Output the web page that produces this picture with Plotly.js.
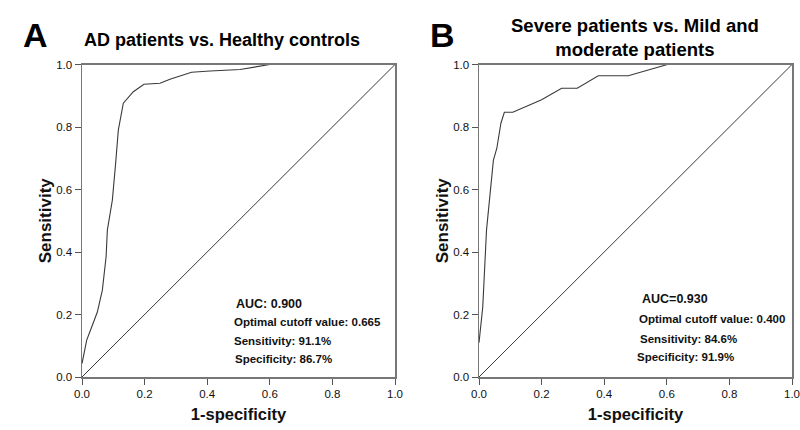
<!DOCTYPE html>
<html>
<head>
<meta charset="utf-8">
<script src="https://cdn.plot.ly/plotly-3.0.1.min.js"></script>
<style>html,body{margin:0;padding:0;background:#fff;}#chart{width:800px;height:430px;}</style>
</head>
<body>
<div id="chart"></div>
<script>
// Panel A: AD patients vs. Healthy controls
const fprA = [0, 0.015, 0.031, 0.049, 0.065, 0.077, 0.081, 0.097, 0.108, 0.116, 0.132, 0.164, 0.198, 0.249, 0.281, 0.329, 0.350, 0.409, 0.505, 0.600, 1.0];
const tprA = [0.043, 0.118, 0.160, 0.208, 0.278, 0.385, 0.470, 0.566, 0.690, 0.790, 0.876, 0.913, 0.937, 0.940, 0.953, 0.967, 0.975, 0.979, 0.984, 1.0, 1.0];
// Panel B: Severe vs. Mild and moderate patients
const fprB = [0, 0.012, 0.024, 0.046, 0.057, 0.070, 0.081, 0.108, 0.200, 0.264, 0.314, 0.381, 0.477, 0.602, 1.0];
const tprB = [0.110, 0.224, 0.470, 0.694, 0.732, 0.812, 0.847, 0.847, 0.887, 0.924, 0.924, 0.964, 0.964, 1.0, 1.0];
const refLine = [0, 1];
const tickVals = [0, 0.2, 0.4, 0.6, 0.8, 1.0];
const tickText = ["0.0", "0.2", "0.4", "0.6", "0.8", "1.0"];
const statsA = ["AUC: 0.900", "Optimal cutoff value: 0.665", "Sensitivity: 91.1%", "Specificity: 86.7%"];
const statsB = ["AUC=0.930", "Optimal cutoff value: 0.400", "Sensitivity: 84.6%", "Specificity: 91.9%"];
const titleA = "AD patients vs. Healthy controls";
const titleB = "Severe patients vs. Mild and<br>moderate patients";

const FONT = "Liberation Sans, Arial, sans-serif";
const curveLine = {color: "#3a3a3a", width: 1.1};
const diagLine = {color: "#222", width: 0.9};

const traces = [
  {x: fprA, y: tprA, mode: "lines", line: curveLine, xaxis: "x", yaxis: "y", hoverinfo: "skip"},
  {x: refLine, y: refLine, mode: "lines", line: diagLine, xaxis: "x", yaxis: "y", hoverinfo: "skip"},
  {x: fprB, y: tprB, mode: "lines", line: curveLine, xaxis: "x2", yaxis: "y2", hoverinfo: "skip"},
  {x: refLine, y: refLine, mode: "lines", line: diagLine, xaxis: "x2", yaxis: "y2", hoverinfo: "skip"}
];

function xAx(domain, anchor) {
  return {
    domain: domain, anchor: anchor, range: [0, 1], fixedrange: true,
    tickvals: tickVals, ticktext: tickText, ticks: "outside", ticklen: 6, tickwidth: 1, tickcolor: "#555",
    showline: true, linecolor: "#777", linewidth: 1.5, mirror: true, showgrid: false, zeroline: false,
    tickfont: {family: FONT, size: 11.5, color: "#111"},
    title: {text: "<b>1-specificity</b>", font: {family: FONT, size: 16.5, color: "#111"}, standoff: 9}
  };
}
function yAx(domain, anchor) {
  return {
    domain: domain, anchor: anchor, range: [0, 1], fixedrange: true,
    tickvals: tickVals, ticktext: tickText, ticks: "outside", ticklen: 6, tickwidth: 1, tickcolor: "#555",
    showline: true, linecolor: "#777", linewidth: 1.5, mirror: true, showgrid: false, zeroline: false,
    tickfont: {family: FONT, size: 11.5, color: "#111"},
    title: {text: "<b>Sensitivity</b>", font: {family: FONT, size: 17, color: "#111"}, standoff: 0}
  };
}

const W = 800, H = 430;
const px = v => v / W, py = v => 1 - v / H;

function statAnn(lines, xs, ys) {
  return lines.map((t, i) => ({
    text: "<b>" + t + "</b>", xref: "paper", yref: "paper", x: px(xs[i]), y: py(ys[i]),
    xanchor: "left", yanchor: "middle", showarrow: false, borderpad: 0,
    font: {family: FONT, size: i === 0 ? 12.5 : 11.5, color: "#111"}
  }));
}

const annotations = [
  {text: "<b>A</b>", xref: "paper", yref: "paper", x: px(35), y: py(35), xanchor: "center", yanchor: "middle", showarrow: false, font: {family: FONT, size: 34, color: "#000"}},
  {text: "<b>B</b>", xref: "paper", yref: "paper", x: px(442), y: py(35), xanchor: "center", yanchor: "middle", showarrow: false, font: {family: FONT, size: 34, color: "#000"}},
  {text: "<b>" + titleA + "</b>", xref: "paper", yref: "paper", x: px(222), y: py(40), xanchor: "center", yanchor: "middle", showarrow: false, font: {family: FONT, size: 18, color: "#000"}},
  {text: "<b>" + titleB + "</b>", xref: "paper", yref: "paper", x: px(635), y: py(37), xanchor: "center", yanchor: "middle", showarrow: false, font: {family: FONT, size: 18.5, color: "#000"}}
].concat(
  statAnn(statsA, [235, 233, 233, 234], [304, 322, 341, 359]),
  statAnn(statsB, [641, 638, 639, 636], [299, 319, 339, 357])
);

const layout = {
  width: W, height: H, margin: {l: 0, r: 0, t: 0, b: 0},
  paper_bgcolor: "#fff", plot_bgcolor: "#fff", showlegend: false,
  xaxis: xAx([px(82), px(395)], "y"),
  yaxis: yAx([py(377), py(64.5)], "x"),
  xaxis2: xAx([px(479), px(792)], "y2"),
  yaxis2: yAx([py(377), py(64.5)], "x2"),
  annotations: annotations,
  font: {family: FONT}
};

Plotly.newPlot("chart", traces, layout, {staticPlot: true, displayModeBar: false});
</script>
</body>
</html>
